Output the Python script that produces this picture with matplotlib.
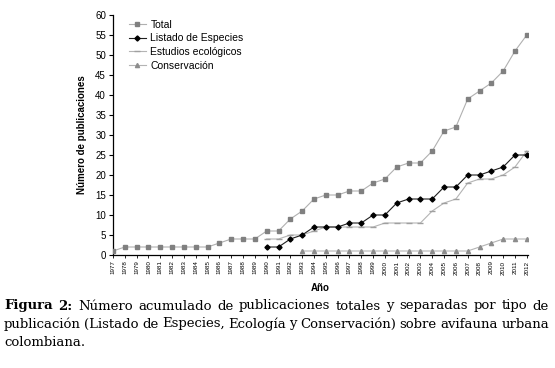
import numpy as np
import matplotlib
matplotlib.use("Agg")
import matplotlib.pyplot as plt

plt.rcParams['font.family'] = ['Liberation Sans', 'DejaVu Sans']

years = list(range(1977, 2013))

total = [1, 2, 2, 2, 2, 2, 2, 2, 2, 3, 4, 4, 4, 6, 6, 9, 11, 14, 15, 15,
         16, 16, 18, 19, 22, 23, 23, 26, 31, 32, 39, 41, 43, 46, 51, 55]

years_lst = list(range(1990, 2013))
listado = [2, 2, 4, 5, 7, 7, 7, 8, 8, 10, 10, 13, 14, 14, 14, 17, 17, 20,
           20, 21, 22, 25, 25]
ecologicos = [4, 4, 5, 5, 6, 7, 7, 7, 7, 7, 8, 8, 8, 8, 11, 13, 14, 18,
              19, 19, 20, 22, 26]

years_cons = list(range(1993, 2013))
conservacion = [1, 1, 1, 1, 1, 1, 1, 1, 1, 1, 1, 1, 1, 1, 1, 2, 3, 4, 4, 4]

# caption lines: (text, justified)
caption = [
    ("Figura 2: Número acumulado de publicaciones totales y separadas por tipo de", True),
    ("publicación (Listado de Especies, Ecología y Conservación) sobre avifauna urbana", True),
    ("colombiana.", False),
]

fig = plt.figure(figsize=(5.55, 3.68), dpi=100)
ax = fig.add_axes([113 / 555, 1 - 255 / 368, (528 - 113) / 555, 240 / 368])

ax.plot(years, total, color='#b0b0b0', lw=0.8, marker='s', ms=3.4,
        mfc='#808080', mec='#808080', label='Total', zorder=3)
ax.plot(years_lst, listado, color='#202020', lw=0.8, marker='D', ms=2.6,
        mfc='black', mec='black', label='Listado de Especies', zorder=4)
ax.plot(years_lst, ecologicos, color='#b4b4b4', lw=0.8, marker='_', ms=4,
        mec='#a0a0a0', label='Estudios ecológicos', zorder=2)
ax.plot(years_cons, conservacion, color='#b4b4b4', lw=0.8, marker='^', ms=3,
        mfc='#8c8c8c', mec='#8c8c8c', label='Conservación', zorder=2)

ax.set_xlim(1977, 2012.1)
ax.set_ylim(0, 60)
ax.set_yticks(np.arange(0, 61, 5))
ax.set_xticks(years)
ax.set_xticklabels([str(y) for y in years], rotation=90, fontsize=4.5)
ax.tick_params(axis='y', labelsize=7, length=3, width=0.8, pad=2)
ax.tick_params(axis='x', length=2.5, width=0.6, pad=1.5)
for s in ['top', 'right']:
    ax.spines[s].set_visible(False)
ax.spines['left'].set_linewidth(0.9)
ax.spines['bottom'].set_linewidth(0.9)

ax.set_xlabel("Año", fontsize=7, fontweight='bold', labelpad=6)
ax.set_ylabel("Número de publicaciones", fontsize=7, fontweight='bold', labelpad=6)

ax.legend(loc='upper left', bbox_to_anchor=(0.015, 1.02), frameon=False,
          fontsize=7.5, handlelength=1.7, handletextpad=0.4, labelspacing=0.35)

# caption, justified word by word
fig.canvas.draw()
renderer = fig.canvas.get_renderer()
W = fig.bbox.width
left, right = 4, 549
y0 = 1 - 306 / 368
for i, (line, justify) in enumerate(caption):
    y = y0 - i * 18 / 368
    words = line.split(" ")
    arts = []
    for j, w in enumerate(words):
        bold = line.startswith("Figura") and j < 2
        t = fig.text(0, y, w, fontsize=9.5, family='DejaVu Serif',
                     fontweight='bold' if bold else 'normal', va='center')
        arts.append(t)
    widths = [t.get_window_extent(renderer).width for t in arts]
    if justify and len(words) > 1:
        gap = (right - left - sum(widths)) / (len(words) - 1)
    else:
        gap = 4.0
    x = left
    for t, wd in zip(arts, widths):
        t.set_x(x / W)
        x += wd + gap

fig.savefig("out.png", dpi=100)
